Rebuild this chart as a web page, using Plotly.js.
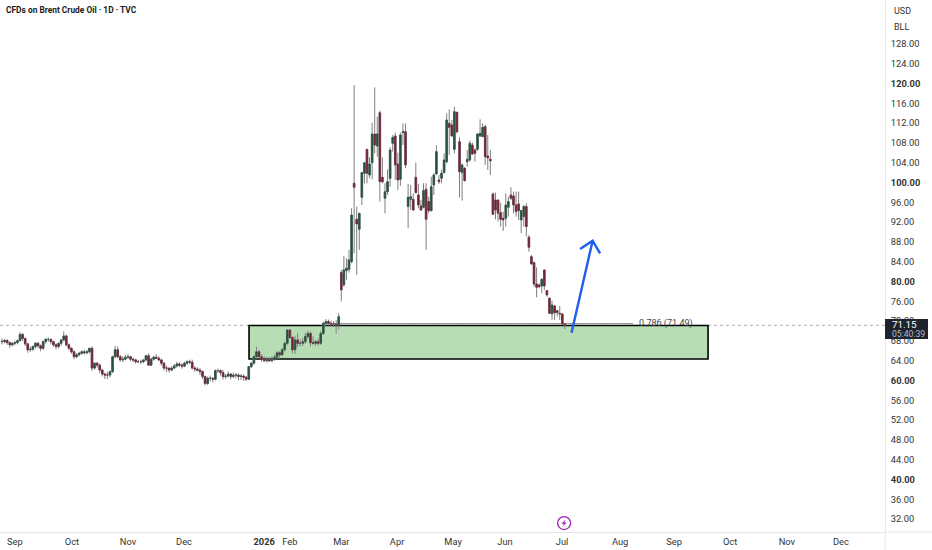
<!DOCTYPE html>
<html><head><meta charset="utf-8">
<script src="https://cdn.plot.ly/plotly-3.0.1.min.js"></script>
<style>html,body{margin:0;padding:0;background:#fff}</style>
</head><body><div id="chart" style="width:932px;height:550px"></div>
<script>
const open=[
67.9,67.85,68.1,67.65,67.2,67.5,67.65,68.05,69.3,68.5,
67.4,66.2,66.3,66.85,67.5,67,66.5,67.85,68.3,68.3,
67.85,67.2,66.85,67.5,68.2,69,67.2,66.5,65.8,64.8,
65.2,65.5,65.8,65.6,65.8,66.5,62.5,63.5,63.1,62.1,
61.3,61.1,61.1,61.8,64.8,66.2,64.8,64.15,64.3,64.7,
64.8,64.3,64.15,63.8,63.8,63.8,64.15,65,63.1,64.3,
64.7,64.5,64.15,63.5,62.5,62.5,62.1,62.5,62.95,63.35,
63.1,62.9,63.5,63.8,63.7,62.5,62.3,62.1,61.8,60.8,
59.4,60.45,60.45,60.25,62,62,61.6,60.8,60.9,61.3,
60.8,61.1,61.1,60.8,60.9,60.65,60.25,62.8,63.5,64.8,
65.8,64.8,64.3,64,64.15,64,64.3,64.7,65.6,65.2,
66.2,67.5,70.2,68.7,66.2,68.2,67.5,67.5,67.85,68.9,
69.5,67.65,67.5,67.85,67.5,69.5,71.55,71.9,71.55,71.4,
71.4,71.2,
81.8,79.31,82.2,82.47,84.02,99.84,92.57,90.55,97.01,101.86,
106.7,101.52,104.01,109.8,107.37,114.1,101.05,96.81,98.15,100.85,
107.91,109.39,103.74,100.64,110.07,110.27,95.13,96.61,96.61,101.05,
97.48,95.26,95,98.63,96.14,94.32,99.5,101.72,100.51,100.85,
101.99,104.21,111.95,111.61,106.7,114.17,108.25,102,102.87,104.21,
104.55,107.58,106.57,106.7,109.39,109.26,111.28,105.36,104.68,97.68,
96.47,96.47,93.91,92.77,92.77,95,97.48,97.28,95.46,95.66,
92.43,93.11,95.13,88.93,85.02,83.81,79.5,79.3,79.1,82.33,
78.16,76.61,73.45,75.06,74.12,73.58,73.45,71.4];
const high=[
68.5,68.4,68.3,67.9,67.8,68,68.3,69.8,69.6,68.7,
67.6,66.9,67.1,67.8,67.8,67.3,68.1,68.6,68.7,68.5,
68,67.5,67.7,68.4,69.9,69.3,67.5,66.7,66.1,65.5,
65.8,66.1,66.2,66.2,66.6,66.9,63.6,63.7,63.4,62.4,
61.6,61.7,62,65,67,66.9,65.2,64.9,65.2,65.4,
65,64.6,64.4,64.2,64.2,64.3,65.2,65.5,64.6,65,
65.3,64.9,64.4,63.7,63,62.6,62.9,63.3,63.8,63.7,
63.5,63.8,64.1,64.2,64.2,62.9,62.7,62.5,62,61,
60.8,61,60.7,62.2,62.4,62.2,62.1,61.3,61.8,61.5,
61.6,61.5,61.4,61.3,61.2,60.9,62.9,63.8,65.1,66.8,
66.2,65.3,64.9,64.8,64.7,64.9,65.2,66,65.9,66.6,
67.9,70.3,70.4,68.9,69,69.5,68.3,68.6,69.6,70.1,
69.9,68.9,68.2,68.5,70,71.9,72.4,72.3,72.1,72,
72.2,73.6,
82.34,85.17,84.69,86.38,94.79,119.69,95.13,93.78,102,104,
106.7,105.09,112.09,119.22,113.3,114.5,105.09,99.84,102.66,107.11,
109.6,110.07,106.03,110.07,111.95,111.95,99.7,99.5,97.82,104,
99.7,96.47,99.84,99.84,97.14,101.18,101.86,107.5,101.52,102.53,
105.89,113.97,114.78,112.62,115.32,114.31,109.12,103.88,103.07,106.57,
108.45,108.05,106.9,109.93,112.76,111.95,111.61,109.6,106.57,97.95,
97.95,96.47,95.93,94.12,97.82,97.14,99.03,98.15,98.15,98.15,
94.45,95.46,95.8,89.4,85.36,84.01,82.87,79.64,80.65,82.46,
78.29,76.81,76.14,75.26,74.25,75.06,73.58,71.56];
const low=[
67.3,67.5,67.2,66.6,66.9,67.1,67.3,67.9,68,67,
65.6,65.8,66,66.5,66.6,65.9,66.2,67.4,67.8,67.3,
66.8,66.3,66.5,67,67.9,66.9,66.1,65.4,64.3,64.5,
64.9,65.2,65.3,65.3,65.5,61.9,62.2,62.6,61.5,60.8,
60.3,60.3,60.6,61.5,64.5,64.5,63.8,63.7,64.1,64.4,
63.9,63.7,63.4,63.5,63.3,63.5,63.9,63,62.9,64,
64.4,63.9,63,62,61.7,61.6,61.9,62.3,62.6,62.7,
62.4,62.7,63.2,63.3,62.2,61.8,61.8,61.1,60.3,59,
59.1,59.8,59.6,60,61.5,61,60.2,60.3,60.6,60.2,
60.5,60.4,60,60.1,59.9,59.9,60.1,62.5,63.2,64.4,
64.4,63.8,63.7,63.6,63.8,63.7,64,64.4,64.4,64.9,
65.9,67.2,68.4,65.5,65.3,66.8,66.9,67,67.4,68.4,
66.9,67.2,67,67,67.2,69.2,71,71.1,70.9,70.8,
69.5,70.3,
75.95,78.97,80.32,81.8,83.69,85.7,81.33,86.38,95.46,99.84,
99.84,100.85,100.64,105.89,105.22,96.14,99.84,93.78,97.48,99.16,
106.23,100.51,98.49,99.3,107.58,102.87,90.75,94.45,94.32,97.82,
94.79,94.25,94.79,86.38,93.78,94.12,97.48,101.52,99.7,99.84,
101.99,103.88,105.56,109.26,105.89,109.93,97.01,96.34,100.17,103.2,
104.21,105.56,104.21,106.43,109.26,109.26,103.54,102.53,101.52,93.44,
92.57,92.1,91.09,90.21,91.09,93.11,96.47,93.78,93.11,92.43,
89.74,91.09,89.07,86.04,83.34,78.96,76.81,78.63,77.62,78.29,
76.95,73.45,72.23,72.23,72.91,72.23,71.22,70.42];
const close=[
67.85,68.1,67.65,67.2,67.5,67.65,68.05,69.3,68.5,67.4,
66.2,66.3,66.85,67.5,67,66.5,67.85,68.3,68.3,67.85,
67.2,66.85,67.5,68.2,69,67.2,66.5,65.8,64.8,65.2,
65.5,65.8,65.6,65.8,66.5,62.5,63.5,63.1,62.1,61.3,
61.1,61.1,61.8,64.8,66.2,64.8,64.15,64.3,64.7,64.8,
64.3,64.15,63.8,63.8,63.8,64.15,65,63.1,64.3,64.7,
64.5,64.15,63.5,62.5,62.5,62.1,62.5,62.95,63.35,63.1,
62.9,63.5,63.8,63.7,62.5,62.3,62.1,61.8,60.8,59.4,
60.45,60.45,60.25,62,62,61.6,60.8,60.9,61.3,60.8,
61.1,61.1,60.8,60.9,60.65,60.25,62.8,63.5,64.8,65.8,
64.8,64.3,64,64.15,64,64.3,64.7,65.6,65.2,66.2,
67.5,70.2,68.7,66.2,68.2,67.5,67.5,67.85,68.9,69.5,
67.65,67.5,67.85,67.5,69.5,71.55,71.9,71.55,71.4,71.4,
71.2,72.9,
78.3,82.34,82.68,84.36,93.44,99.03,91.63,93.78,102,104,
101.86,103.74,109.8,107.58,109.8,100.17,100.17,98.15,100.17,106.57,
109.12,103.54,100.51,109.6,110.27,103.54,97.01,97.14,94.45,97.95,
95.46,94.45,98.36,92.57,94.32,99.16,101.52,106.23,100.17,101.86,
104.55,112.62,111.14,109.39,114.31,110.27,102.19,103.54,100.38,104.68,
107.91,105.76,105.89,109.8,109.93,111.14,105.22,104.95,104.41,93.58,
94.45,93.78,92.57,92.43,95.46,96.14,96.81,95.46,94.12,94.32,
94.32,95.13,91.09,86.92,83.54,79.5,78.83,78.96,80.44,79.1,
77.28,73.58,75.26,73.71,73.71,73.45,71.43,71.15];

const monthBars=[5,27.2,49,70.8,102,112,132,153.7,175.5,195.7,217.9,240.5,261.5,283.3,305.4,326.4];
const monthLabels=['Sep','Oct','Nov','Dec','<b>2026</b>','Feb','Mar','Apr','May','Jun','Jul','Aug','Sep','Oct','Nov','Dec'];
const priceTicks=[128,124,120,116,112,108,104,100,96,92,88,84,80,76,72,68,64,60,56,52,48,44,40,36,32];
const priceLabels=['128.00','124.00','<b>120.00</b>','116.00','112.00','108.00','104.00','<b>100.00</b>','96.00','92.00','88.00','84.00','<b>80.00</b>','76.00','72.00','68.00','64.00','<b>60.00</b>','56.00','52.00','48.00','44.00','<b>40.00</b>','36.00','32.00'];
const arrowBars=[221.6,229.8,224.9,229.8,232.7];
const arrowPrices=[69.66,88.24,86.55,88.24,85.7];
const lastPrice=71.15, fibPrice=71.49, zoneTop=71.1, zoneBottom=64.35;

const x=close.map((_,i)=>i);
const UP='#26553f', DOWN='#742438', WICK='#7f7f7f';
const fontFam='Roboto, "Noto Sans", sans-serif';
const traces=[
 {type:'candlestick',x,open,high,low,close,whiskerwidth:0,showlegend:false,hoverinfo:'skip',
  line:{width:1},
  increasing:{line:{color:WICK,width:1},fillcolor:WICK},
  decreasing:{line:{color:WICK,width:1},fillcolor:WICK}},
 {type:'candlestick',x,open,close,
  high:open.map((v,i)=>Math.max(v,close[i])),
  low:open.map((v,i)=>Math.min(v,close[i])),
  whiskerwidth:0,showlegend:false,hoverinfo:'skip',
  increasing:{line:{color:UP,width:0.5},fillcolor:UP},
  decreasing:{line:{color:DOWN,width:0.5},fillcolor:DOWN}},
 {type:'scatter',mode:'lines',x:arrowBars,y:arrowPrices,showlegend:false,hoverinfo:'skip',
  line:{color:'#1e5ff0',width:2.4,shape:'linear'}}
];
const ann=(text,xp,yp,size,color,extra)=>Object.assign({text,xref:'paper',yref:'paper',
  x:xp/885,y:1-yp/532,xanchor:'left',yanchor:'middle',showarrow:false,borderpad:0,
  font:{family:fontFam,size,color}},extra||{});
const layout={
 width:932,height:550,autosize:false,paper_bgcolor:'#fff',plot_bgcolor:'#fff',
 margin:{l:0,r:47,t:0,b:18,pad:0},showlegend:false,dragmode:false,boxgap:0.12,
 xaxis:{type:'linear',range:[-0.8,343.56],rangeslider:{visible:false},showgrid:false,zeroline:false,
   tickmode:'array',tickvals:monthBars,ticktext:monthLabels,ticklen:0,ticklabelstandoff:1,
   showline:true,linecolor:'#e6e6ea',linewidth:1,
   tickfont:{family:fontFam,size:9.3,color:'#333'}},
 yaxis:{type:'linear',side:'right',range:[29.39,136.87],showgrid:false,zeroline:false,
   tickmode:'array',tickvals:priceTicks,ticktext:priceLabels,ticklen:0,ticklabelstandoff:3,
   showline:true,linecolor:'#e6e6ea',linewidth:1,
   tickfont:{family:fontFam,size:9.3,color:'#333'}},
 shapes:[
  {type:'rect',layer:'below',xref:'x',yref:'y',x0:96.1,x1:274.7,y0:zoneBottom,y1:zoneTop,
   fillcolor:'#b7ddb4',line:{color:'#000',width:1.6}},
  {type:'line',layer:'below',xref:'paper',yref:'y',x0:0,x1:1,y0:lastPrice,y1:lastPrice,
   line:{color:'#b0b0b0',width:1,dash:'dot'}},
  {type:'line',layer:'below',xref:'x',yref:'y',x0:125,x1:245.5,y0:fibPrice,y1:fibPrice,
   line:{color:'#8f8a8a',width:1}},
  {type:'line',xref:'paper',yref:'paper',x0:1,x1:932/885,y0:0,y1:0,line:{color:'#e6e6ea',width:1}},
  {type:'line',xref:'paper',yref:'paper',x0:1,x1:1,y0:0,y1:-18/532,line:{color:'#e6e6ea',width:1}},
  {type:'circle',xref:'x',yref:'y',xsizemode:'pixel',ysizemode:'pixel',xanchor:218.7,yanchor:31.2,
   x0:-6.5,x1:6.5,y0:-6.5,y1:6.5,line:{color:'#9c27b0',width:1.3}},
  {type:'path',xref:'x',yref:'y',xsizemode:'pixel',ysizemode:'pixel',xanchor:218.7,yanchor:31.2,
   path:'M 1.6,3.8 L -2.6,-0.6 L -0.2,-0.6 L -1.6,-3.8 L 2.6,0.6 L 0.2,0.6 Z',
   fillcolor:'#9c27b0',line:{width:0}},
  {type:'rect',xref:'paper',yref:'paper',x0:885/885,x1:928/885,y0:1-339/532,y1:1-319/532,
   fillcolor:'#1f232e',line:{width:0}}
 ],
 annotations:[
  ann('<b>CFDs on Brent Crude Oil · 1D · TVC</b>',5,10,8.4,'#1a1a1a'),
  ann('USD',893,10.5,9,'#333'),
  ann('BLL',893,27,9,'#333'),
  ann('71.15',890.5,324.5,9.8,'#ffffff'),
  ann('05:40:39',890.5,334,8.6,'#b8bbc4'),
  ann('0.786 (71.49)',638,323,9,'#444')
 ]
};
Plotly.newPlot('chart',traces,layout,{staticPlot:true,displayModeBar:false});
</script></body></html>
